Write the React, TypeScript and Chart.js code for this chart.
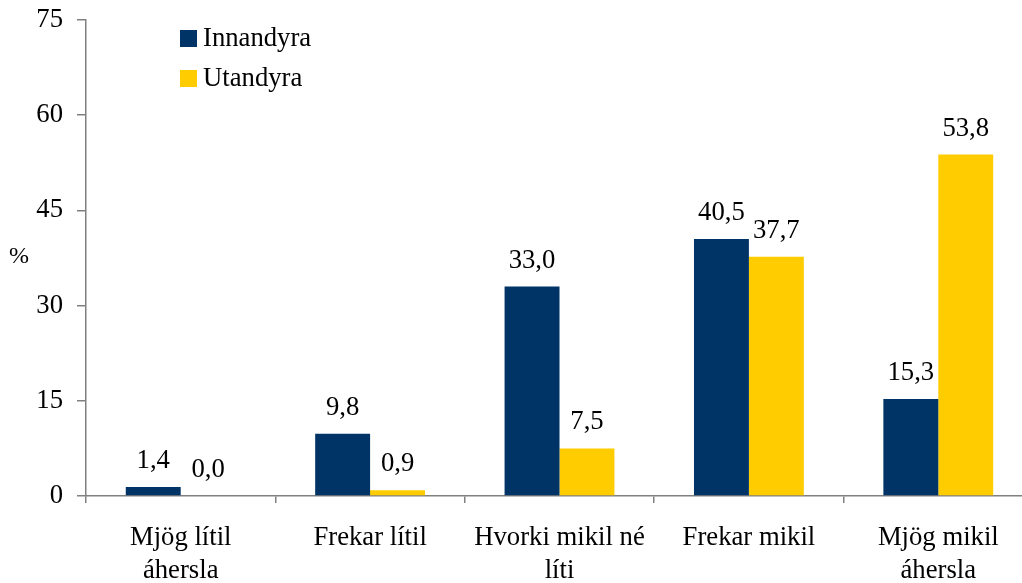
import React, { useEffect, useRef } from "react";
import { Chart, registerables } from "chart.js";

Chart.register(...registerables);

const categories: string[][] = [
  ["Mjög lítil", "áhersla"],
  ["Frekar lítil"],
  ["Hvorki mikil né", "líti"],
  ["Frekar mikil"],
  ["Mjög mikil", "áhersla"],
];
const innandyra = [1.4, 9.8, 33.0, 40.5, 15.3];
const utandyra = [0.0, 0.9, 7.5, 37.7, 53.8];
const seriesNames = ["Innandyra", "Utandyra"];
const yTicks = { min: 0, max: 75, step: 15 };
const yTitle = "%";

const NAVY = "#003366";
const YELLOW = "#FFCC00";
const AXIS = "#808080";
const FONT = "'Liberation Serif', 'Times New Roman', serif";

export default function App() {
  const ref = useRef<HTMLCanvasElement | null>(null);

  useEffect(() => {
    if (!ref.current) return;
    const overlay = {
      id: "overlay",
      afterDatasetsDraw(chart: any) {
        const ctx = chart.ctx;
        ctx.save();
        ctx.fillStyle = "#000";
        ctx.font = `26.7px ${FONT}`;
        ctx.textAlign = "center";
        ctx.textBaseline = "alphabetic";
        chart.data.datasets.forEach((ds: any, di: number) => {
          const meta = chart.getDatasetMeta(di);
          meta.data.forEach((bar: any, i: number) => {
            const v = ds.data[i] as number;
            ctx.fillText(v.toFixed(1).replace(".", ","), bar.x, bar.y - 19);
          });
        });
        // legend
        const colors = [NAVY, YELLOW];
        ctx.textAlign = "left";
        ctx.textBaseline = "middle";
        ctx.font = `26.7px ${FONT}`;
        seriesNames.forEach((n, i) => {
          const y0 = 30 + i * 40;
          ctx.fillStyle = colors[i];
          ctx.fillRect(180, y0, 17, 17);
          ctx.fillStyle = "#000";
          ctx.fillText(n, 203, y0 + 9);
        });
        // y title
        ctx.textAlign = "center";
        ctx.font = `24px ${FONT}`;
        ctx.fillText(yTitle, 19, 257);
        ctx.restore();
      },
    };

    const chart = new Chart(ref.current, {
      type: "bar",
      data: {
        labels: categories,
        datasets: [
          { label: seriesNames[0], data: innandyra, backgroundColor: NAVY, borderWidth: 0 },
          { label: seriesNames[1], data: utandyra, backgroundColor: YELLOW, borderWidth: 0 },
        ],
      },
      options: {
        responsive: false,
        animation: false,
        events: [],
        layout: { padding: { top: 20, left: 0, right: 0, bottom: 0 } },
        plugins: { legend: { display: false }, tooltip: { enabled: false } },
        datasets: { bar: { categoryPercentage: 0.58, barPercentage: 1 } },
        scales: {
          x: {
            grid: {
              offset: true,
              drawOnChartArea: false,
              drawTicks: true,
              tickLength: 7,
              color: AXIS,
              lineWidth: 1.5,
            },
            border: { color: AXIS, width: 1.5 },
            ticks: {
              color: "#000",
              font: { family: FONT, size: 26.7, lineHeight: 1.24 },
              padding: 18,
              maxRotation: 0,
              autoSkip: false,
            },
            afterFit: (s: any) => {
              s.height = 87;
              s.paddingLeft = 0;
              s.paddingRight = 0;
            },
          },
          y: {
            min: yTicks.min,
            max: yTicks.max,
            grid: {
              drawOnChartArea: false,
              drawTicks: true,
              tickLength: 9,
              color: AXIS,
              lineWidth: 1.5,
            },
            border: { color: AXIS, width: 1.5 },
            ticks: {
              stepSize: yTicks.step,
              color: "#000",
              font: { family: FONT, size: 26.7 },
              padding: 14,
            },
            afterFit: (s: any) => {
              s.width = 86;
              s.paddingTop = 0;
              s.paddingBottom = 0;
            },
          },
        },
      },
      plugins: [overlay],
    });
    return () => chart.destroy();
  }, []);

  return (
    <div
      style={{
        position: "fixed",
        left: 0,
        top: 0,
        width: 1022,
        height: 583,
        overflow: "hidden",
        background: "#fff",
      }}
    >
      <canvas ref={ref} width={1033} height={583} style={{ width: 1033, height: 583, display: "block" }} />
    </div>
  );
}
